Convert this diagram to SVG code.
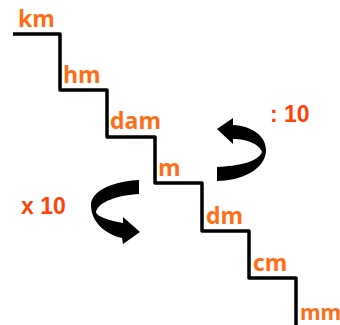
<svg xmlns="http://www.w3.org/2000/svg" width="340" height="325" viewBox="0 0 340 325">
<style>
.s{fill:none;stroke:#000;stroke-width:3.5;stroke-linejoin:round}
.a{fill:#000}
.u{font-family:"Open Sans","Liberation Sans",sans-serif;font-weight:700;font-size:23px;fill:#ff6d14}
.f{font-family:"Liberation Sans",Arial,sans-serif;font-weight:700;font-size:23px;fill:#ff4208}
</style>
<rect width="340" height="325" fill="#fff"/>
<g id="connectors">
<path class="s" d="M13 34H60V90H107V137H155V183H202V231H249V278H296V325"/>
</g>
<g id="unit-km"><text class="u" x="18" y="27">km</text></g>
<g id="unit-hm"><text class="u" x="63" y="83">hm</text></g>
<g id="unit-dam"><text class="u" x="110" y="129">dam</text></g>
<g id="unit-m"><text class="u" x="158" y="176">m</text></g>
<g id="unit-dm"><text class="u" x="206" y="224">dm</text></g>
<g id="unit-cm"><text class="u" x="253" y="271">cm</text></g>
<g id="unit-mm"><text class="u" x="300" y="320" style="font-size:21px">mm</text></g>
<g id="label-div"><text class="f" x="270" y="122">: 10</text></g>
<g id="label-mul"><text class="f" x="21" y="214">x 10</text></g>
<g id="arrow-div"><path class="a" d="M217 167C238 166 258 162 262 152C260 145 248 139 233 139V144L217 129L233 118V125C252 126 266 136 266 150C266 170 240 181 217 181Z"/></g>
<g id="arrow-mul"><path class="a" d="M139 180C115 181 91 190 91 205C91 222 105 234 122 238L123 244L140 232L123 217V223C110 221 96 216 96 212C98 202 118 195 139 194Z"/></g>
</svg>
